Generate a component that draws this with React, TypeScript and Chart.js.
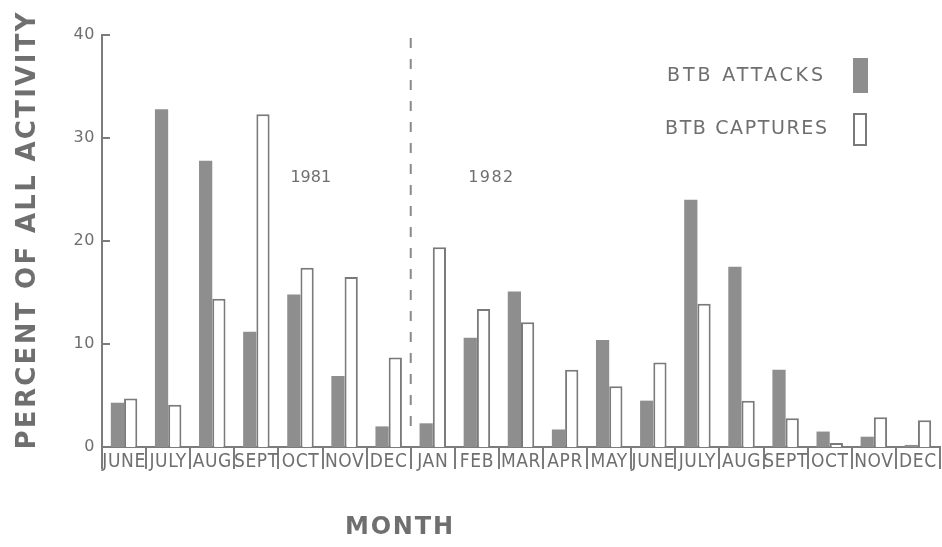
import React, { useEffect, useRef } from 'react';
import { Chart, registerables } from 'chart.js';

Chart.register(...registerables);

// ---- data ----
const months = ['JUNE', 'JULY', 'AUG', 'SEPT', 'OCT', 'NOV', 'DEC', 'JAN', 'FEB', 'MAR', 'APR', 'MAY', 'JUNE', 'JULY', 'AUG', 'SEPT', 'OCT', 'NOV', 'DEC'];
const attacks = [4.3, 32.8, 27.8, 11.2, 14.8, 6.9, 2.0, 2.3, 10.6, 15.1, 1.7, 10.4, 4.5, 24.0, 17.5, 7.5, 1.5, 1.0, 0.2];
const captures = [4.7, 4.1, 14.4, 32.3, 17.4, 16.5, 8.7, 19.4, 13.4, 12.1, 7.5, 5.9, 8.2, 13.9, 4.5, 2.8, 0.4, 2.9, 2.6];
const yTickValues = [0, 10, 20, 30, 40];
const seriesNames = ['BTB ATTACKS', 'BTB CAPTURES'];
const yearLabels = ['1981', '1982'];
const yTitle = 'PERCENT OF ALL ACTIVITY';
const xTitle = 'MONTH';

const TEXT = '#6f6f6f';
const AXIS = '#7c7c7c';
const FILL = '#8e8e8e';
const OUTLINE = '#7a7a7a';
const FONT = '"DejaVu Sans", "Liberation Sans", sans-serif';
const NARROW = '"Liberation Sans Narrow", "DejaVu Sans Condensed", "Liberation Sans", sans-serif';

function spacedText(ctx: CanvasRenderingContext2D, text: string, cx: number, cy: number, font: string, width: number) {
  const c: any = ctx;
  ctx.font = font;
  c.letterSpacing = '0px';
  const w = ctx.measureText(text).width;
  const s = Math.max(0, (width - w) / Math.max(1, text.length - 1));
  c.letterSpacing = s + 'px';
  const total = w + s * (text.length - 1);
  ctx.textAlign = 'left';
  ctx.textBaseline = 'middle';
  ctx.fillText(text, cx - total / 2, cy);
  c.letterSpacing = '0px';
}

const decorPlugin = {
  id: 'decor',
  beforeDraw(chart: any) {
    (chart.ctx as any).letterSpacing = '0.6px';
  },
  afterDraw(chart: any) {
    const ctx: CanvasRenderingContext2D = chart.ctx;
    (ctx as any).letterSpacing = '0px';
    const { chartArea } = chart;
    const xs = chart.scales.x;
    const ys = chart.scales.y;
    ctx.save();

    // inward y tick marks
    ctx.strokeStyle = AXIS;
    ctx.lineWidth = 2;
    yTickValues.forEach((v) => {
      const y = ys.getPixelForValue(v);
      ctx.beginPath();
      ctx.moveTo(chartArea.left, y);
      ctx.lineTo(chartArea.left + 8, y);
      ctx.stroke();
    });

    // dashed year divider between DEC (1981) and JAN (1982)
    const divX = (xs.getPixelForValue(6) + xs.getPixelForValue(7)) / 2;
    ctx.setLineDash([10, 11]);
    ctx.strokeStyle = '#8a8a8a';
    ctx.beginPath();
    ctx.moveTo(divX, chartArea.top + 3);
    ctx.lineTo(divX, chartArea.bottom - 10);
    ctx.stroke();
    ctx.setLineDash([]);

    ctx.fillStyle = TEXT;
    // year labels
    spacedText(ctx, yearLabels[0], divX - 100, 178, '16px ' + FONT, 38);
    spacedText(ctx, yearLabels[1], divX + 80, 178, '16px ' + FONT, 45);

    // legend
    spacedText(ctx, seriesNames[0], 745, 76.5, '19px ' + FONT, 156);
    spacedText(ctx, seriesNames[1], 746, 129.5, '19px ' + FONT, 162);
    ctx.fillStyle = FILL;
    ctx.fillRect(853, 58, 15, 35);
    ctx.strokeStyle = OUTLINE;
    ctx.lineWidth = 2;
    ctx.strokeRect(854, 114, 12, 31);

    // axis titles
    ctx.fillStyle = TEXT;
    ctx.save();
    ctx.translate(28, 231);
    ctx.rotate(-Math.PI / 2);
    spacedText(ctx, yTitle, 0, 0, 'bold 26px ' + FONT, 437);
    ctx.restore();
    spacedText(ctx, xTitle, 399, 528, 'bold 24px ' + FONT, 108);

    ctx.restore();
  },
};

export default function App() {
  const ref = useRef<HTMLCanvasElement | null>(null);

  useEffect(() => {
    if (!ref.current) return;
    const chart = new Chart(ref.current, {
      type: 'bar',
      data: {
        labels: months,
        datasets: [
          {
            label: seriesNames[0],
            data: attacks,
            backgroundColor: FILL,
            borderWidth: 0,
          },
          {
            label: seriesNames[1],
            data: captures,
            backgroundColor: '#ffffff',
            borderColor: OUTLINE,
            borderWidth: 2,
            borderSkipped: 'bottom',
          },
        ],
      },
      options: {
        animation: false,
        responsive: false,
        layout: { padding: { top: 35, right: 2, left: 0, bottom: 0 } },
        datasets: { bar: { categoryPercentage: 0.6, barPercentage: 1 } },
        plugins: {
          legend: { display: false },
          tooltip: { enabled: false },
          title: { display: false },
        },
        scales: {
          x: {
            type: 'category',
            offset: true,
            grid: {
              display: true,
              offset: true,
              drawOnChartArea: false,
              drawTicks: true,
              tickLength: 22,
              color: AXIS,
              lineWidth: 2,
            },
            border: { display: true, color: AXIS, width: 2 },
            ticks: {
              color: TEXT,
              font: { family: NARROW, size: 19 },
              padding: -18,
              maxRotation: 0,
              minRotation: 0,
              autoSkip: false,
            },
            afterFit: (s: any) => {
              s.height = 100;
            },
          },
          y: {
            min: 0,
            max: 40,
            ticks: {
              stepSize: 10,
              color: TEXT,
              font: { family: FONT, size: 16 },
              padding: 7,
            },
            grid: { display: false, drawTicks: false },
            border: { display: true, color: AXIS, width: 2 },
            afterFit: (s: any) => {
              s.width = 102;
            },
          },
        },
      } as any,
      plugins: [decorPlugin],
    });
    return () => chart.destroy();
  }, []);

  return (
    <div style={{ position: 'fixed', left: 0, top: 0, width: 942, height: 547, background: '#fff' }}>
      <canvas ref={ref} width={942} height={547} style={{ display: 'block' }} />
    </div>
  );
}
